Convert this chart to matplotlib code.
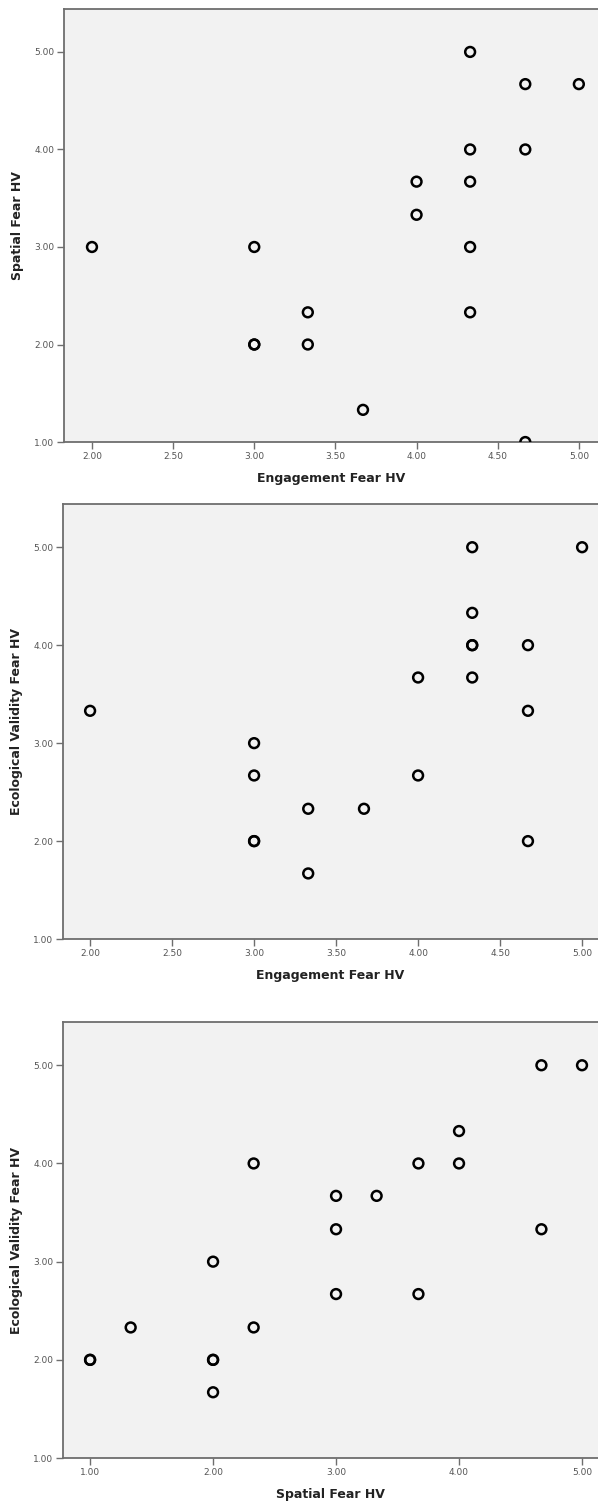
import numpy as np
import matplotlib
matplotlib.use('Agg')
import matplotlib.pyplot as plt

# HV fear scale scores (duplicated rows are cases sharing the same pair of scores)
engagement_a = [2.00, 3.00, 3.00, 3.00, 3.33, 3.33, 3.67, 4.00, 4.00, 4.33, 4.33, 4.33, 4.33, 4.33,
                4.67, 4.67, 4.67, 5.00]
spatial_a = [3.00, 3.00, 2.00, 2.00, 2.33, 2.00, 1.33, 3.67, 3.33, 5.00, 4.00, 3.67, 3.00, 2.33,
             4.67, 4.00, 1.00, 4.67]

engagement_b = [2.00, 3.00, 3.00, 3.00, 3.00, 3.33, 3.33, 3.67, 4.00, 4.00, 4.33, 4.33, 4.33, 4.33,
                4.33, 4.67, 4.67, 4.67, 5.00]
ecological_b = [3.33, 3.00, 2.67, 2.00, 2.00, 2.33, 1.67, 2.33, 3.67, 2.67, 5.00, 4.33, 4.00, 4.00,
                3.67, 4.00, 3.33, 2.00, 5.00]

spatial_c = [1.00, 1.00, 1.33, 2.00, 2.00, 2.00, 2.00, 2.33, 2.33, 3.00, 3.00, 3.00, 3.33, 3.67,
             3.67, 4.00, 4.00, 4.67, 4.67, 5.00]
ecological_c = [2.00, 2.00, 2.33, 3.00, 2.00, 2.00, 1.67, 4.00, 2.33, 3.67, 3.33, 2.67, 3.67, 4.00,
                2.67, 4.33, 4.00, 5.00, 3.33, 5.00]

eng_ticks = [2.0, 2.5, 3.0, 3.5, 4.0, 4.5, 5.0]
spa_ticks = [1.0, 2.0, 3.0, 4.0, 5.0]
y_ticks = [1.0, 2.0, 3.0, 4.0, 5.0]

panels = [
    (engagement_a, spatial_a, 'Engagement Fear HV', 'Spatial Fear HV', eng_ticks, (1.8275, 5.118)),
    (engagement_b, ecological_b, 'Engagement Fear HV', 'Ecological Validity Fear HV', eng_ticks, (1.835, 5.097)),
    (spatial_c, ecological_c, 'Spatial Fear HV', 'Ecological Validity Fear HV', spa_ticks, (0.78, 5.13)),
]

# axes boxes in figure fractions: left, bottom, width, height
boxes = [
    [0.1070, 0.7059, 0.8930, 0.2881],
    [0.1054, 0.3752, 0.8946, 0.2894],
    [0.1054, 0.0299, 0.8946, 0.2901],
]

fig = plt.figure(figsize=(5.98, 15.03), dpi=100)
for (x, y, xl, yl, xt, xlim), box in zip(panels, boxes):
    ax = fig.add_axes(box)
    ax.set_facecolor('#f2f2f2')
    ax.scatter(x, y, s=50, facecolors='none', edgecolors='black', linewidths=1.8, zorder=3)
    ax.set_xlim(*xlim)
    ax.set_ylim(1.0, 5.44)
    ax.set_xticks(xt)
    ax.set_xticklabels(['%.2f' % v for v in xt])
    ax.set_yticks(y_ticks)
    ax.set_yticklabels(['%.2f' % v for v in y_ticks])
    for sp in ax.spines.values():
        sp.set_color('#6e6e6e')
        sp.set_linewidth(1.3)
    # the frame runs off the right edge of the page
    ax.spines['right'].set_visible(False)
    ax.tick_params(direction='out', length=5, width=1, color='#6e6e6e',
                   labelsize=6.5, labelcolor='#555555', pad=2)
    ax.set_xlabel(xl, fontsize=9, fontweight='bold', color='#222222', labelpad=8)
    ax.set_ylabel(yl, fontsize=9, fontweight='bold', color='#222222', labelpad=7)

fig.savefig('out.png', dpi=100, facecolor='white')
